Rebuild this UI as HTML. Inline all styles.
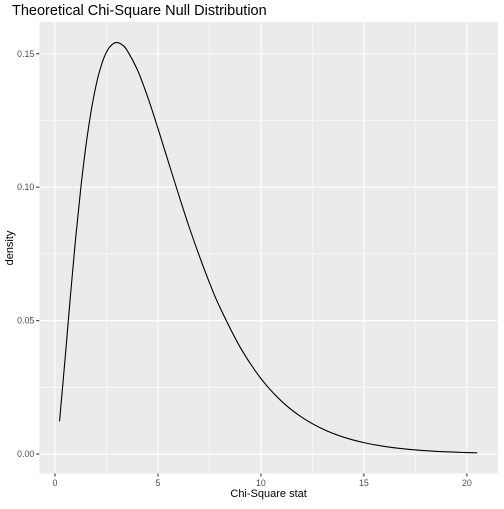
<!DOCTYPE html>
<html><head><meta charset="utf-8"><style>
body{margin:0;background:#fff;font-family:"Liberation Sans",sans-serif;}
</style></head><body>
<svg id="chart" width="504" height="504" xmlns="http://www.w3.org/2000/svg" font-family="Liberation Sans, sans-serif">
<text x="12" y="15" font-size="14.5" fill="#000">Theoretical Chi-Square Null Distribution</text>
<rect x="39.3" y="22" width="458.7" height="451.5" fill="#EBEBEB"/>
<g id="grid"></g>
<g id="axes"></g>
<path id="curve" fill="none" stroke="#000" stroke-width="1.1"/>
<text x="268.6" y="497" font-size="11" text-anchor="middle">Chi-Square stat</text>
<text transform="translate(13,248) rotate(-90)" font-size="11" text-anchor="middle">density</text>
</svg>
<script>
const xs = [0.22,0.5,0.75,1,1.25,1.5,1.75,2,2.25,2.5,2.75,3,3.25,3.5,4,4.5,5,5.5,6,6.5,7,7.5,8,9,10,11,12,13,14,15,16,17,18,19,20,20.5];
const ys = [0.0123,0.0366,0.0594,0.0807,0.0995,0.1154,0.1283,0.1384,0.1457,0.1506,0.1533,0.1542,0.1534,0.1513,0.1440,0.1338,0.1220,0.1096,0.0973,0.0854,0.0744,0.0642,0.0551,0.0399,0.0283,0.0198,0.0137,0.00937,0.00635,0.00427,0.00285,0.00190,0.00125,0.00082,0.00054,0.00044];
const xTicks = [0,5,10,15,20];
const yTicks = [0,0.05,0.10,0.15];
const yTickLabels = ["0.00","0.05","0.10","0.15"];
const xMin=-0.7625,xMax=21.5125,yMin=-0.0073,yMax=0.1619;
const L=39.3,R=498,T=22,B=473.5;
const sx=v=>L+(v-xMin)/(xMax-xMin)*(R-L);
const sy=v=>B-(v-yMin)/(yMax-yMin)*(B-T);
const NS="http://www.w3.org/2000/svg";
const grid=document.getElementById('grid'),axes=document.getElementById('axes');
function line(par,x1,y1,x2,y2,st,w){const l=document.createElementNS(NS,'line');l.setAttribute('x1',x1);l.setAttribute('y1',y1);l.setAttribute('x2',x2);l.setAttribute('y2',y2);l.setAttribute('stroke',st);l.setAttribute('stroke-width',w);par.appendChild(l);return l;}
for(let i=0;i<xTicks.length-1;i++){const m=(xTicks[i]+xTicks[i+1])/2;const l=line(grid,sx(m),T,sx(m),B,'#fff',0.55);

}
for(let i=0;i<yTicks.length-1;i++){const m=(yTicks[i]+yTicks[i+1])/2;const l=line(grid,L,sy(m),R,sy(m),'#fff',0.55);

}
xTicks.forEach(v=>{const l=line(grid,sx(v),T,sx(v),B,'#fff',1.1);


const t=line(axes,sx(v),B,sx(v),B+3,'#333',1.1);


const tx=document.createElementNS(NS,'text');tx.setAttribute('x',sx(v));tx.setAttribute('y',B+12.5);tx.setAttribute('font-size','8.8');tx.setAttribute('fill','#4D4D4D');tx.setAttribute('text-anchor','middle');tx.textContent=v;


axes.appendChild(tx);});
yTicks.forEach((v,i)=>{const l=line(grid,L,sy(v),R,sy(v),'#fff',1.1);


const t=line(axes,L-3,sy(v),L,sy(v),'#333',1.1);


const tx=document.createElementNS(NS,'text');tx.setAttribute('x',L-5);tx.setAttribute('y',sy(v)+3);tx.setAttribute('font-size','8.8');tx.setAttribute('fill','#4D4D4D');tx.setAttribute('text-anchor','end');tx.textContent=yTickLabels[i];


axes.appendChild(tx);});
const P=xs.map((x,i)=>[sx(x),sy(ys[i])]);
let d='M'+P[0][0]+','+P[0][1];
for(let i=0;i<P.length-1;i++){const p0=P[Math.max(0,i-1)],p1=P[i],p2=P[i+1],p3=P[Math.min(P.length-1,i+2)];
d+=' C'+(p1[0]+(p2[0]-p0[0])/6)+','+(p1[1]+(p2[1]-p0[1])/6)+' '+(p2[0]-(p3[0]-p1[0])/6)+','+(p2[1]-(p3[1]-p1[1])/6)+' '+p2[0]+','+p2[1];}
document.getElementById('curve').setAttribute('d',d);
</script>
</body></html>
